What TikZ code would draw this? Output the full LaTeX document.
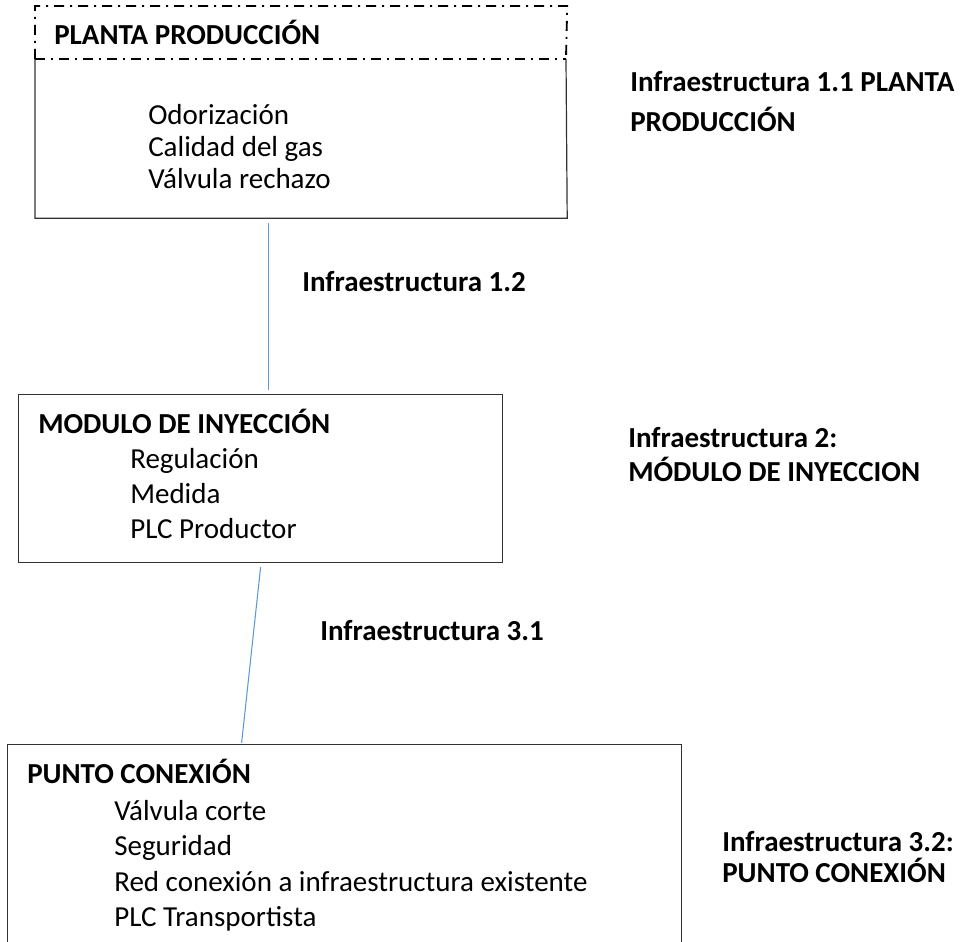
\documentclass[tikz,border=0pt]{standalone}
\usepackage{fontspec}
\setmainfont{Carlito}
\usetikzlibrary{positioning}
\definecolor{linkblue}{RGB}{91,155,213}
\definecolor{boxgray}{RGB}{50,50,50}

\begin{document}
\begin{tikzpicture}[x=0.75pt, y=-0.75pt, font=\fontsize{21.75}{26}\selectfont]
    \tikzstyle{box} = [rectangle, draw=boxgray, line width=0.9pt, anchor=north west, inner sep=0pt]
    \tikzstyle{edge} = [draw=boxgray, line width=0.9pt]
    \tikzstyle{dashdot} = [draw=black, line width=1.4pt, dash pattern=on 7.5pt off 4.5pt on 1.5pt off 4.5pt]
    \tikzstyle{title} = [anchor=base west, inner sep=0pt, font=\fontsize{21.75}{26}\selectfont\bfseries]
    \tikzstyle{item} = [anchor=base west, inner sep=0pt]
    \tikzstyle{tag} = [anchor=base west, inner sep=0pt, font=\fontsize{21.75}{26}\selectfont\bfseries]
    \tikzstyle{link} = [draw=linkblue, line width=0.8pt]

    \useasboundingbox (0,0) rectangle (967,942);
    \clip (0,0) rectangle (967,942);

    % planta produccion
    \node [box, draw=none, minimum width=398.25pt, minimum height=158.25pt] (planta) at (35,6) {};
    \coordinate (sepL) at (35,59);
    \coordinate (sepR) at (566,59);
    \draw [edge] (sepL) -- (planta.south west) -- (planta.south east) -- (sepR);
    \draw [dashdot] (sepL) -- (planta.north west) -- (planta.north east) -- (sepR);
    \draw [dashdot] (sepL) -- (sepR);
    \node [title] (plantaT) at (54,45) {PLANTA PRODUCCIÓN};
    \node [item] (odor) at (148,124) {Odorización};
    \node [item] (calidad) at (148,156) {Calidad del gas};
    \node [item] (rechazo) at (148,188) {Válvula rechazo};

    % modulo de inyeccion
    \node [box, minimum width=363pt, minimum height=126pt] (modulo) at (18,394) {};
    \node [title] (moduloT) at (38,433) {MODULO DE INYECCIÓN};
    \node [item] (regul) at (130,468) {Regulación};
    \node [item] (medida) at (130,503) {Medida};
    \node [item] (plcP) at (130,538) {PLC Productor};

    % punto conexion
    \node [box, minimum width=505.5pt, minimum height=157.5pt] (punto) at (7,744) {};
    \node [title] (puntoT) at (27,783) {PUNTO CONEXIÓN};
    \node [item] (corte) at (114,820) {Válvula corte};
    \node [item] (segur) at (114,855) {Seguridad};
    \node [item] (red) at (114,891) {Red conexión a infraestructura existente};
    \node [item] (plcT) at (114,926) {PLC Transportista};

    % tramos
    \draw [link] ([shift={(-33,5)}]planta.south) -- ([shift={(7.5,-4)}]modulo.north);
    \draw [link] ([shift={(0,4)}]modulo.south) -- ([shift={(-103,-1)}]punto.north);
    \node [tag] (tag12) at (302,291) {Infraestructura 1.2};
    \node [tag] (tag31) at (320,640) {Infraestructura 3.1};

    % etiquetas
    \node [tag] (tag11a) at (630,91) {Infraestructura 1.1 PLANTA};
    \node [tag] (tag11b) at (630,131) {PRODUCCIÓN};
    \node [tag] (tag2a) at (628,447) {Infraestructura 2:};
    \node [tag] (tag2b) at (628,481) {MÓDULO DE INYECCION};
    \node [tag] (tag32a) at (722,851) {Infraestructura 3.2:};
    \node [tag] (tag32b) at (722,882) {PUNTO CONEXIÓN};
\end{tikzpicture}
\end{document}
